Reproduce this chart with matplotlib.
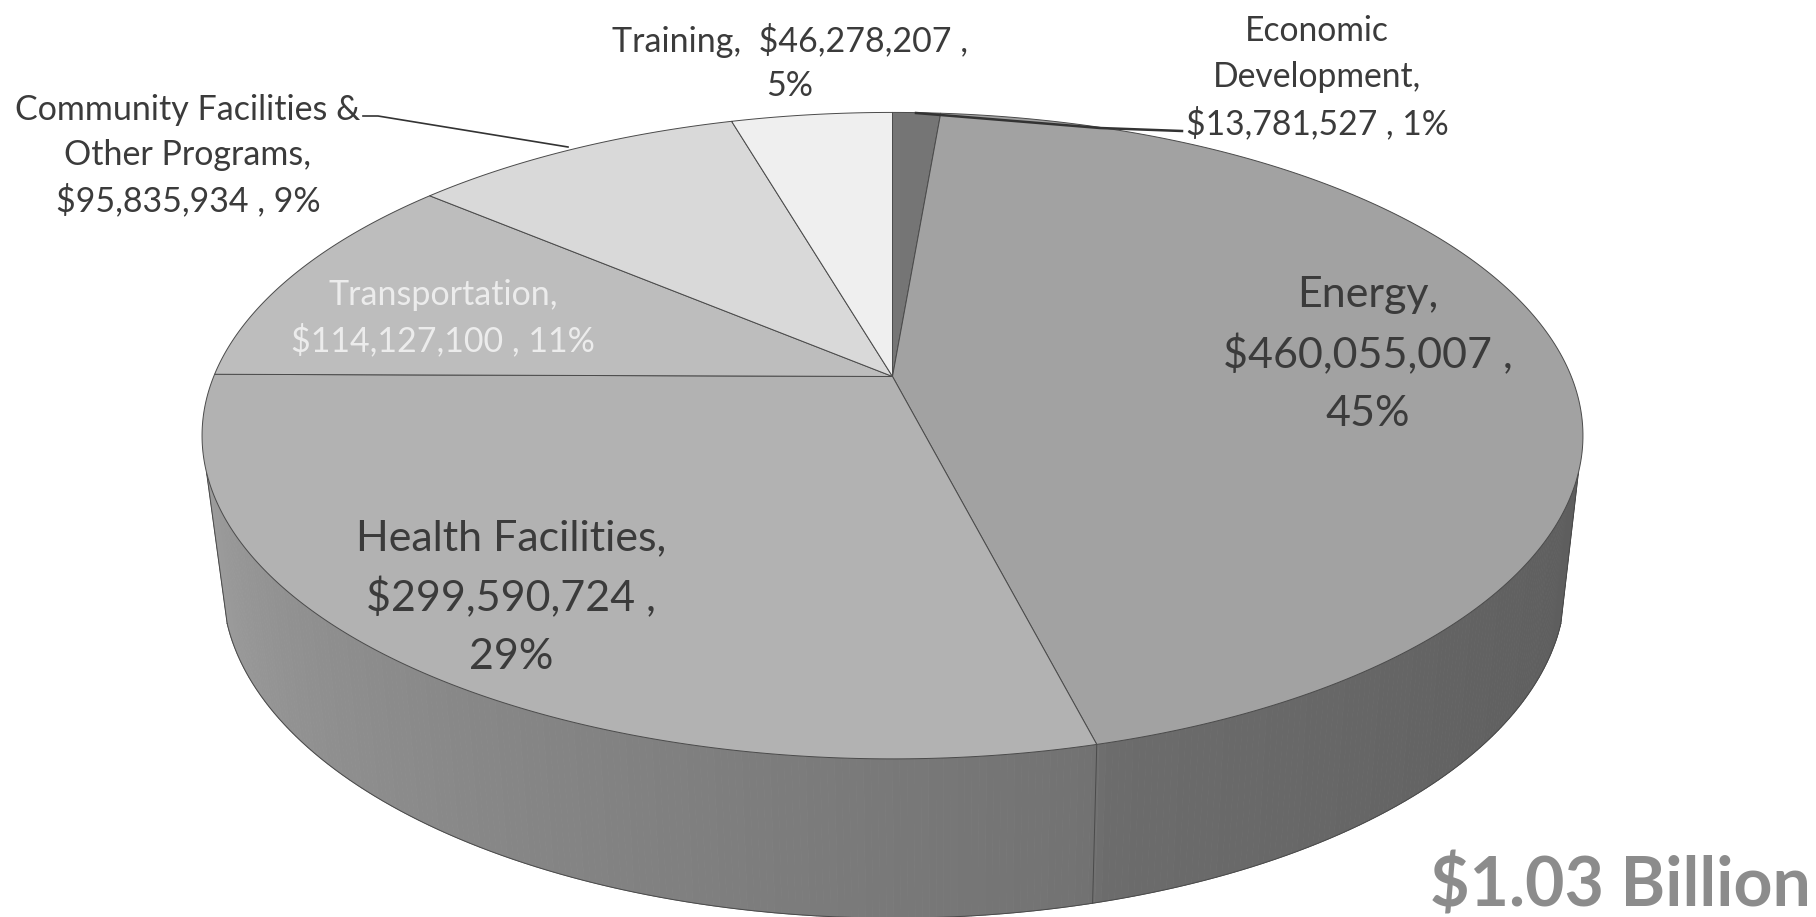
import numpy as np
import matplotlib
matplotlib.use('Agg')
import matplotlib.pyplot as plt

# clockwise from 12 o'clock
categories = ['Economic Development', 'Energy', 'Health Facilities', 'Transportation',
              'Community Facilities & Other Programs', 'Training']
values = [13781527, 460055007, 299590724, 114127100, 95835934, 46278207]
shares = [1, 45, 29, 11, 9, 5]
total_label = '$1.03 Billion'

slice_grays = ['#757575', '#a2a2a2', '#b2b2b2', '#bdbdbd', '#d9d9d9', '#efefef']

# perspective of the disc, in pixels of the 1816x917 picture
TOP = dict(cx=892.5, cy=376.5, f=678.8, g=312.4)
BOTTOM = dict(cx=894.0, cy=524.0, f=660.0, g=322.0)
TILT = 0.183
WALL_FROM, WALL_TO = 107.0, 253.0  # where the side wall leaves the silhouette


def project(theta, r, plane):
    """Disc point (theta clockwise from north, radius r) to picture pixels."""
    X = r * np.sin(theta)
    Y = r * np.cos(theta)
    w = 1 + TILT * Y
    return plane['cx'] + plane['f'] * X / w, plane['cy'] - plane['g'] * Y / w


def rim_gray(theta):
    # side wall gets darker from the left round to the right
    deg = np.degrees(theta) % 360
    knots = [100, 130, 165, 166, 200, 230, 253]
    grays = [92, 98, 108, 114, 130, 144, 156]
    g = np.interp(deg, knots, grays) / 255
    return (g, g, g)


fig = plt.figure(figsize=(18.16, 9.17), dpi=100)
ax = fig.add_axes([0, 0, 1, 1])
ax.set_xlim(0, 1816)
ax.set_ylim(917, 0)
ax.axis('off')

fractions = np.cumsum([0] + values) / sum(values)
angles = fractions * 2 * np.pi
line_col = '#4a4a4a'

# side wall, many thin strips
steps = np.radians(np.arange(WALL_FROM, WALL_TO + 0.25, 0.5))
for a, b in zip(steps[:-1], steps[1:]):
    xt, yt = project(np.array([a, b]), 1, TOP)
    xb, yb = project(np.array([b, a]), 1, BOTTOM)
    col = rim_gray((a + b) / 2)
    ax.fill(np.r_[xt, xb], np.r_[yt, yb], color=col, lw=0.6, zorder=1)

# outline of the wall
xb, yb = project(steps, 1, BOTTOM)
ax.plot(xb, yb, color=line_col, lw=0.7, zorder=2)
for i in range(len(values)):
    if np.pi / 2 < angles[i] < 3 * np.pi / 2:
        xs, ys = zip(project(angles[i], 1, TOP), project(angles[i], 1, BOTTOM))
        ax.plot(xs, ys, color=line_col, lw=0.7, zorder=2)

# silhouette edges from top disc to bottom disc
for deg in [WALL_FROM, WALL_TO]:
    xs, ys = zip(project(np.radians(deg), 1, TOP), project(np.radians(deg), 1, BOTTOM))
    ax.plot(xs, ys, color=line_col, lw=0.7, zorder=2)

# top face
apex_x, apex_y = project(0.0, 0.0, TOP)
for i in range(len(values)):
    t = np.linspace(angles[i], angles[i + 1], 200)
    xs, ys = project(t, 1, TOP)
    ax.fill(np.r_[apex_x, xs], np.r_[apex_y, ys], facecolor=slice_grays[i],
            edgecolor=line_col, lw=0.7, zorder=3, joinstyle='round')

# leader lines
ax.plot([363, 378, 568], [116, 116, 147], color='#333333', lw=1.2, zorder=4)
ax.plot([916, 1100, 1182], [113, 128, 131], color='#333333', lw=1.8, zorder=4)

font = ['Lato', 'DejaVu Sans']
text_col = '#3b3b3b'


def label(x, y, lines, size, color=text_col, step=46):
    for n, line in enumerate(lines):
        ax.text(x, y + n * step, line, fontsize=size, color=color, family=font,
                ha='center', va='center', zorder=5)


money = [f'${v:,} ,' for v in values]
pct = [f'{p}%' for p in shares]

label(1317, 31, ['Economic', 'Development,', f'{money[0]} {pct[0]}'], 24.2)
label(1368, 295, ['Energy,', money[1], pct[1]], 31, step=59.5)
label(511, 538, ['Health Facilities,', money[2], pct[2]], 31, step=59.5)
label(443, 295, ['Transportation,', f'{money[3]} {pct[3]}'], 24.5, color='#ececec', step=45)
label(188, 110, ['Community Facilities &', 'Other Programs,', f'{money[4]} {pct[4]}'], 24.5, step=45)
label(790, 40, [f'Training,  {money[5]}', pct[5]], 24.5)

ax.text(1811, 887, total_label, fontsize=49, fontweight='bold', color='#8c8c8c',
        family=font, ha='right', va='center', zorder=5)

fig.savefig('out.png', dpi=100, facecolor='white')
